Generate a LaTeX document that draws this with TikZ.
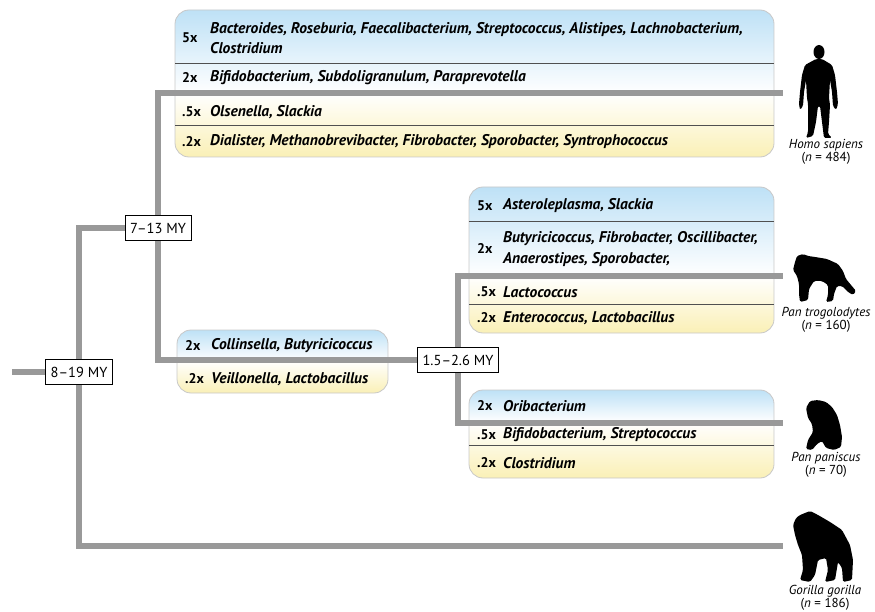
\documentclass[tikz,border=0pt]{standalone}
\usepackage{fontspec}
\setmainfont{PT Sans}
\usetikzlibrary{positioning, calc}

\definecolor{branchgray}{HTML}{999999}
\definecolor{rowblue}{RGB}{190,225,246}
\definecolor{rowyellow}{RGB}{250,240,182}
\definecolor{framegray}{HTML}{C8C8C8}
\definecolor{rulegray}{HTML}{505050}

\pgfdeclarelayer{panels}
\pgfdeclarelayer{tree}
\pgfsetlayers{panels,tree,main}

% panel: left, top, right, bottom, split height
\newcommand{\flora}[5]{%
	\begin{scope}
		\clip[rounded corners=14pt] (#1,#2) rectangle (#3,#4);
		\shade[top color=rowblue, bottom color=white] (#1,#2) rectangle (#3,#5);
		\shade[top color=white, bottom color=rowyellow] (#1,#5) rectangle (#3,#4);
	\end{scope}
	\draw[framegray, line width=0.8pt, rounded corners=14pt] (#1,#2) rectangle (#3,#4);
}

\begin{document}
\begin{tikzpicture}[x=1pt, y=-1pt,
	branch/.style={draw=branchgray, line width=6.5pt},
	age/.style={draw, fill=white, line width=0.7pt, inner xsep=5pt, minimum height=25pt, font=\fontsize{14.5}{16}\selectfont},
	fold/.style={anchor=west, inner sep=0pt, font=\bfseries\fontsize{14}{16}\selectfont},
	taxa/.style={anchor=west, inner sep=0pt, align=left, font=\bfseries\itshape\fontsize{15.5}{20.5}\selectfont},
	species/.style={inner sep=0pt, align=center, font=\fontsize{13}{11}\selectfont},
	sep/.style={draw=rulegray, line width=0.8pt},
	ape/.style={fill=black, rounded corners=1.5pt}]
	\useasboundingbox (0,0) rectangle (875,612);

	%Painéis:
	\begin{pgfonlayer}{panels}
	\flora{175}{10}{774}{157}{93}
	\flora{469}{187}{774}{333}{276}
	\flora{469}{390}{774}{478}{422}
	\flora{177}{330}{388}{393}{361}
	\draw[sep] (175,63) -- (774,63);
	\draw[sep] (175,125) -- (774,125);
	\draw[sep] (469,221) -- (774,221);
	\draw[sep] (469,304) -- (774,304);
	\draw[sep] (469,445) -- (774,445);
	\end{pgfonlayer}

	\node[fold]	(hs5)	at (182,38)	{5x};
	\node[taxa]	(hs5t)	at (210,38)	{Bacteroides, Roseburia, Faecalibacterium, Streptococcus, Alistipes, Lachnobacterium,\\Clostridium};
	\node[fold]	(hs2)	at (182,78)	{2x};
	\node[taxa]	(hs2t)	at (210,78)	{Bifidobacterium, Subdoligranulum, Paraprevotella};
	\node[fold]	(hs05)	at (182,112)	{.5x};
	\node[taxa]	(hs05t)	at (210,112)	{Olsenella, Slackia};
	\node[fold]	(hs02)	at (182,142)	{.2x};
	\node[taxa]	(hs02t)	at (210,142)	{Dialister, Methanobrevibacter, Fibrobacter, Sporobacter, Syntrophococcus};

	\node[fold]	(pt5)	at (477,206)	{5x};
	\node[taxa]	(pt5t)	at (503,206)	{Asteroleplasma, Slackia};
	\node[fold]	(pt2)	at (477,249)	{2x};
	\node[taxa]	(pt2t)	at (503,249)	{Butyricicoccus, Fibrobacter, Oscillibacter,\\Anaerostipes, Sporobacter,};
	\node[fold]	(pt05)	at (477,292)	{.5x};
	\node[taxa]	(pt05t)	at (503,292)	{Lactococcus};
	\node[fold]	(pt02)	at (477,318)	{.2x};
	\node[taxa]	(pt02t)	at (503,318)	{Enterococcus, Lactobacillus};

	\node[fold]	(pp2)	at (477,406)	{2x};
	\node[taxa]	(pp2t)	at (503,406)	{Oribacterium};
	\node[fold]	(pp05)	at (477,435)	{.5x};
	\node[taxa]	(pp05t)	at (503,435)	{Bifidobacterium, Streptococcus};
	\node[fold]	(pp02)	at (477,463)	{.2x};
	\node[taxa]	(pp02t)	at (503,463)	{Clostridium};

	\node[fold]	(pan2)	at (185,346)	{2x};
	\node[taxa]	(pan2t)	at (211,346)	{Collinsella, Butyricicoccus};
	\node[fold]	(pan02)	at (185,379)	{.2x};
	\node[taxa]	(pan02t)	at (211,379)	{Veillonella, Lactobacillus};

	%Árvore:
	\coordinate	(root)		at (12,372);
	\coordinate	(homo)		at (783,93);
	\coordinate	(chimp)		at (783,276);
	\coordinate	(bonobo)	at (783,423);
	\coordinate	(gorilla)	at (783,546);
	\node[age]	(n819)	at (79,372)	{8--19 MY};
	\node[age]	(n713)	at (158,228)	{7--13 MY};
	\node[age]	(n1526)	at (458,360)	{1.5--2.6 MY};
	\begin{pgfonlayer}{tree}
	\path[branch]
		(root) -- (n819.center)
		(n819.center) |- (n713.center)
		(n819.center) |- (gorilla)
		(n713.center) |- (homo)
		(n713.center) |- (n1526.center)
		(n1526.center) |- (chimp)
		(n1526.center) |- (bonobo);
	\end{pgfonlayer}

	%Silhuetas:
	\fill[ape] (819,52) ellipse [x radius=5.5, y radius=7];
	\fill[ape] (816,59) -- (822,59) -- (832,65) -- (835,75) -- (837,92) -- (838,104) -- (836,110) -- (833,106) -- (832,92) -- (830,80) -- (829,98) -- (830,105) -- (829,122) -- (828,134) -- (832,138) -- (824,138) -- (822,122) -- (820,106) -- (818,106) -- (816,122) -- (813,136) -- (806,138) -- (808,132) -- (808,120) -- (808,104) -- (807,98) -- (806,80) -- (804,92) -- (803,106) -- (800,110) -- (799,104) -- (800,92) -- (802,75) -- (805,65) -- cycle;
	\fill[ape] (795,262) -- (797,256) -- (803,254) -- (808,256) -- (815,257) -- (827,259) -- (838,264) -- (843,271) -- (846,279) -- (851,285) -- (856,291) -- (853,295) -- (848,292) -- (842,286) -- (837,286) -- (834,294) -- (833,301) -- (826,302) -- (828,295) -- (828,285) -- (822,281) -- (814,281) -- (809,289) -- (808,300) -- (800,302) -- (799,294) -- (799,284) -- (797,276) -- (793,270) -- cycle;
	\fill[ape] (806,408) -- (810,401) -- (818,400) -- (826,402) -- (832,407) -- (837,415) -- (840,425) -- (842,437) -- (841,447) -- (834,450) -- (826,448) -- (822,441) -- (817,444) -- (812,450) -- (806,449) -- (808,440) -- (813,432) -- (812,424) -- (808,418) -- cycle;
	\fill[ape] (800,515) -- (810,511) -- (818,515) -- (830,522) -- (842,530) -- (850,545) -- (853,560) -- (852,580) -- (843,582) -- (842,568) -- (838,562) -- (835,580) -- (825,582) -- (828,570) -- (826,558) -- (818,560) -- (815,575) -- (810,582) -- (800,580) -- (803,570) -- (802,555) -- (798,545) -- (795,535) -- (793,525) -- (796,518) -- cycle;

	\node[species]	(hsname)	at (826,152)	{\textit{Homo sapiens}\\(\textit{n} = 484)};
	\node[species]	(ptname)	at (826,320)	{\textit{Pan trogolodytes}\\(\textit{n} = 160)};
	\node[species]	(ppname)	at (826,465)	{\textit{Pan paniscus}\\(\textit{n} = 70)};
	\node[species]	(ggname)	at (825,598)	{\textit{Gorilla gorilla}\\(\textit{n} = 186)};
\end{tikzpicture}
\end{document}
